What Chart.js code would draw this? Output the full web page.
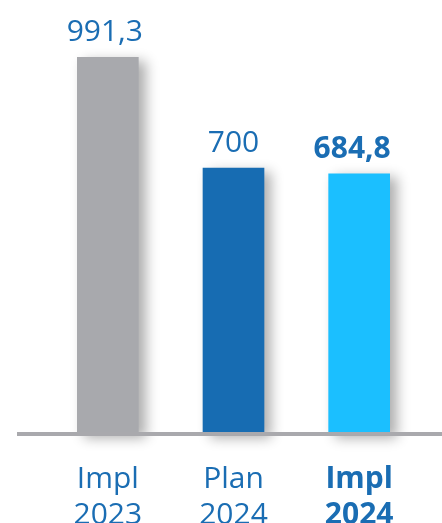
<!DOCTYPE html>
<html>
<head>
<meta charset="utf-8">
<script src="https://cdn.jsdelivr.net/npm/chart.js@4"></script>
<style>
  html, body { margin: 0; padding: 0; background: #fff; }
  canvas { display: block; }
</style>
</head>
<body>
<canvas id="bars" width="442" height="523"></canvas>
<script>
// Values per column
const categories = [['Impl', '2023'], ['Plan', '2024'], ['Impl', '2024']];
const values = [991.3, 700, 684.8];
const valueLabels = ['991,3', '700', '684,8'];
const highlighted = [false, false, true];

const barColors = ['#a8a9ad', '#176cb2', '#1bbfff'];
const textBlue = '#1a6db3';
const FONT = '"Open Sans", "Noto Sans", sans-serif';

// soft drop shadow to the right of each bar
const barShadow = {
    id: 'barShadow',
    beforeDatasetsDraw(chart) {
        const ctx = chart.ctx;
        ctx.save();
        ctx.shadowColor = 'rgba(0,0,0,0.32)';
        ctx.shadowBlur = 12;
        ctx.shadowOffsetX = 7;
        ctx.shadowOffsetY = 4;
    },
    afterDatasetsDraw(chart) {
        chart.ctx.restore();
    }
};

// grey base line and the value above every bar
const baseAndLabels = {
    id: 'baseAndLabels',
    afterDatasetsDraw(chart) {
        const ctx = chart.ctx;
        const y0 = chart.scales.y.getPixelForValue(0);
        ctx.save();
        ctx.fillStyle = '#a9a9ad';
        ctx.fillRect(17, y0 - 2, chart.width - 17, 4);

        const shift = [-3, 0, -7];
        chart.getDatasetMeta(0).data.forEach((bar, i) => {
            ctx.font = (highlighted[i] ? 'bold ' : '') + '30px ' + FONT;
            ctx.fillStyle = textBlue;
            ctx.textAlign = 'center';
            ctx.textBaseline = 'alphabetic';
            ctx.fillText(valueLabels[i], bar.x + shift[i], bar.y - 16);
        });
        ctx.restore();
    }
};

new Chart(document.getElementById('bars'), {
    type: 'bar',
    data: {
        labels: categories,
        datasets: [{
            data: values,
            backgroundColor: barColors,
            borderWidth: 0,
            barThickness: 61,
            clip: false
        }]
    },
    options: {
        responsive: false,
        animation: false,
        layout: { padding: { top: 54, left: 45, right: 20, bottom: 0 } },
        plugins: { legend: { display: false }, tooltip: { enabled: false } },
        scales: {
            y: { display: false, min: 0, max: 1000 },
            x: {
                afterFit: (s) => { s.height = 89; },
                grid: { display: false, drawTicks: false },
                border: { display: false },
                ticks: {
                    padding: 27,
                    color: textBlue,
                    font: (c) => ({
                        family: FONT,
                        size: 30,
                        weight: highlighted[c.index] ? 'bold' : 'normal',
                        lineHeight: 1.22
                    })
                }
            }
        }
    },
    plugins: [barShadow, baseAndLabels]
});
</script>
</body>
</html>
